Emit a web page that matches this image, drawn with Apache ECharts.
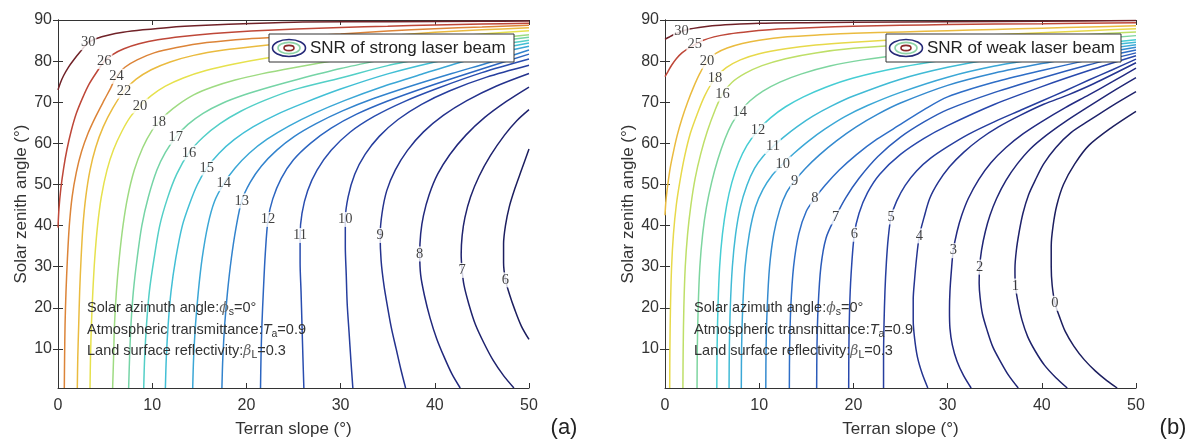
<!DOCTYPE html>
<html><head><meta charset="utf-8">
<script src="https://cdn.jsdelivr.net/npm/echarts@6.0.0/dist/echarts.min.js"></script>
<style>html,body{margin:0;padding:0;background:#fff}#c{width:1194px;height:443px}</style>
</head><body><div id="c"></div>
<script>
// ---------- data ----------
const yTicks = [10,20,30,40,50,60,70,80,90];

// (a) strong beam: contour levels and lines [terrain slope, solar zenith]
const levelsA = [6,7,8,9,10,11,12,13,14,15,16,17,18,20,22,24,26,30];
const cA6  = [[50,12.3],[49.2,15.5],[48.5,19.5],[47.9,23.5],[47.5,26.8],[47.3,31],[47.3,35.5],[47.5,40],[47.9,44.5],[48.5,49],[49.2,53.5],[50,58.6]];
const cA7  = [[48.4,0.5],[47.3,3.5],[46.2,7.2],[45.2,11.5],[44.3,16],[43.6,21],[43.1,25.5],[42.9,29.1],[42.8,33],[42.9,37.5],[43.2,42],[43.8,47],[44.7,52],[45.9,57],[47.4,62],[48.7,65.5],[50,68.2]];
const cA8  = [[42.7,0.5],[41.8,4],[41,8],[40.2,12.5],[39.5,17.5],[38.9,23],[38.5,28],[38.4,33.1],[38.5,38],[38.8,42.5],[39.4,47.5],[40.3,52.5],[41.6,57.3],[43.3,62],[45.3,66.3],[47.6,70.2],[50,73.7]];
const cA9  = [[36.9,0.5],[36.4,5],[35.9,10],[35.4,15],[35,20],[34.6,25.5],[34.3,31.5],[34.2,37.6],[34.4,43],[34.9,48.5],[35.8,53.5],[37.1,58.3],[38.8,62.8],[40.9,66.8],[43.4,70.4],[46.5,73.9],[50,77]];
const cA10 = [[31.3,0.5],[31.1,7],[30.9,14],[30.7,21],[30.6,28],[30.5,35],[30.5,41.5],[30.8,47],[31.5,52.5],[32.6,57.3],[34.1,61.7],[36.1,65.8],[38.6,69.5],[41.6,72.8],[45.5,76.1],[50,79]];
const cA11 = [[26.1,0.5],[26,8],[25.9,16],[25.8,24],[25.7,31],[25.7,37.6],[25.9,43],[26.5,48.5],[27.5,53.5],[29,58.3],[31,62.7],[33.6,66.6],[36.7,70.1],[40.3,73.4],[45,77.2],[50,80.5]];
const cA12 = [[21.5,0.5],[21.55,8],[21.65,16],[21.8,24],[22,33],[22.3,41.5],[22.8,46.5],[23.7,51.5],[25,56],[26.8,60],[29,63.7],[31.7,67.1],[35,70.3],[39,73.6],[43.5,77],[50,81.7]];
const cA13 = [[17.4,0.5],[17.5,8],[17.7,16],[18,24],[18.4,32],[18.9,39.5],[19.5,46],[20.4,50.5],[21.6,54.5],[23.2,58.3],[25.1,61.7],[27.4,64.8],[30.2,67.9],[33.5,70.9],[37.4,73.9],[41.8,77],[46,79.8],[50,82.7]];
const cA14 = [[14.3,0.5],[14.4,8],[14.6,16],[14.9,24],[15.3,32],[15.9,40],[16.6,45.8],[17.6,50.2],[18.8,54],[20.3,57.6],[22.2,61],[24.5,64.2],[27.2,67.3],[30.4,70.4],[34.2,73.6],[38.6,76.8],[43.5,80.2],[50,83.6]];
const cA15 = [[11.4,0.5],[11.5,8],[11.7,16],[12,24],[12.5,32],[13.2,40],[14,45.5],[14.8,50],[15.8,54],[17.1,57.6],[18.7,60.9],[20.7,64],[23.2,67],[26.2,69.9],[30,73.2],[35,76.9],[40,79.8],[45,82.2],[50,84.4]];
const cA16 = [[9.1,0.5],[9.2,8],[9.4,16],[9.7,24],[10.2,32],[10.8,40],[11.6,46.5],[12.6,52.5],[13.9,57.7],[15.4,61.5],[17.2,64.8],[19.4,67.8],[22,70.5],[25,73],[30,75.9],[35,78.9],[40,81.2],[45,83.3],[50,85.1]];
const cA17 = [[7.5,0.5],[7.6,8],[7.75,16],[8,24],[8.4,32],[8.9,40],[9.6,47],[10.5,53.5],[11.4,57.8],[12.5,61.5],[13.8,64.6],[15.4,67.3],[17.4,69.7],[19.8,71.8],[22.5,73.7],[25.5,75.6],[30,78.2],[35,80.6],[40,82.9],[45,84.4],[50,85.8]];
const cA18 = [[5.8,0.5],[5.9,8],[6,16],[6.2,24],[6.5,32],[6.9,40],[7.4,47],[8.1,53.5],[9,59],[10,63.2],[10.7,65.2],[11.6,67.3],[12.8,69.5],[14.4,71.8],[16.4,73.7],[18.8,75.4],[21.6,76.9],[25,78.4],[30,80.4],[35,82.2],[40,83.9],[45,85.2],[50,86.4]];
const cA20 = [[3.4,0.5],[3.45,8],[3.55,16],[3.7,24],[3.9,32],[4.2,40],[4.6,47],[5.2,53.5],[5.9,58.5],[6.8,63],[7.7,66.5],[8.7,69.1],[9.9,71.6],[11.4,73.9],[13.3,75.9],[15.7,77.7],[18.7,79.3],[22,80.7],[25.3,81.8],[30,83.4],[35,84.6],[40,85.6],[45,86.6],[50,87.4]];
const cA22 = [[2.05,0.5],[2.1,8],[2.2,16],[2.3,24],[2.45,32],[2.65,40],[2.95,47],[3.4,53.5],[4,59],[4.8,64],[5.8,68.5],[7,72.7],[8.3,75.6],[9.9,77.9],[11.9,79.8],[14.4,81.4],[17.6,82.7],[21.3,83.7],[25.3,84.6],[30,85.3],[35,86.2],[40,87],[45,87.6],[50,88.1]];
const cA24 = [[0.67,0.5],[0.7,8],[0.75,16],[0.85,24],[1,32],[1.2,40],[1.5,47],[1.95,53],[2.5,58],[3.2,62.5],[4,66.5],[4.9,70.5],[5.6,73.5],[6.2,76.3],[7.1,78.5],[8.4,80.3],[10.2,82],[12.6,83.3],[15.8,84.5],[20,85.4],[25.3,86],[30,86.6],[35,87.3],[40,87.9],[45,88.3],[50,88.7]];
const cA26 = [[0,39.5],[0.1,44],[0.3,49],[0.6,54],[0.95,58.5],[1.4,63],[1.95,67.3],[2.6,71],[3.3,74.4],[4.1,77.3],[4.9,79.9],[5.8,81.6],[7,83],[8.6,84.2],[10.6,85.2],[13.2,86],[16.5,86.7],[20.5,87.3],[25.3,87.8],[30,88.2],[35,88.5],[40,88.8],[45,89],[50,89.2]];
const cA30 = [[0,73],[0.25,74.7],[0.6,76.5],[1.1,78.5],[1.7,80.4],[2.4,82.4],[3.2,84.5],[4.1,85.5],[5.3,86.3],[6.9,87],[9,87.6],[11.8,88.2],[15.7,88.7],[20.5,89.15],[26,89.5],[35,89.6],[45,89.7],[50,89.75]];
const linesA = [cA6,cA7,cA8,cA9,cA10,cA11,cA12,cA13,cA14,cA15,cA16,cA17,cA18,cA20,cA22,cA24,cA26,cA30];
const labelsA = [[47.5,26.8],[42.9,29.1],[38.4,33.1],[34.2,37.6],[30.5,41.5],[25.7,37.6],[22.3,41.5],[19.5,46],[17.6,50.2],[15.8,54],[13.9,57.7],[12.5,61.5],[10.7,65.2],[8.7,69.1],[7,72.7],[6.2,76.3],[4.9,79.9],[3.2,84.5]];

// (b) weak beam
const levelsB = [0,1,2,3,4,5,6,7,8,9,10,11,12,14,16,18,20,25,30];
const cB0  = [[48,0.5],[46.9,2.3],[45.7,4.6],[44.5,7.4],[43.4,10.7],[42.5,14.2],[41.9,17.7],[41.4,21.1],[41.1,25.5],[41,30],[41,35],[41.2,40],[41.6,45],[42.3,50],[43.5,55],[45,59.5],[47.5,64],[50,67.8]];
const cB1  = [[42.7,0.5],[41.5,3],[40.3,6],[39.3,9.5],[38.5,13],[37.9,17],[37.5,21],[37.2,25.3],[37.15,29.5],[37.3,34],[37.6,38.5],[38,43],[38.6,47.5],[39.3,51],[40.2,55],[41.5,59],[43.1,62.6],[45,65.5],[47.5,69.2],[50,72.6]];
const cB2  = [[37.5,0.5],[36.5,3.5],[35.6,7],[34.8,10.5],[34.2,14.5],[33.7,18.5],[33.45,22.5],[33.35,26],[33.4,29.9],[33.6,34],[34,38.5],[34.5,42.5],[35.2,46.6],[36.2,51],[37.4,55],[38.8,58.7],[40.5,62],[42.5,65.3],[45,69],[47.5,72.6],[50,76]];
const cB3  = [[32.5,0.5],[31.7,3.5],[31,7],[30.5,11],[30.25,15],[30.2,19.5],[30.25,24],[30.4,29],[30.6,33.9],[31,38.5],[31.5,42.5],[32.2,46.6],[33.3,51.2],[34.6,55.3],[36.2,59],[38,62.3],[40,65.3],[42.5,68.7],[45,71.8],[47.5,75],[50,78.3]];
const cB4  = [[27.9,0.5],[27.3,4],[26.8,8],[26.5,12.5],[26.35,17],[26.35,22],[26.5,27],[26.7,32],[27,37.5],[27.5,42],[28.1,46.6],[29,50.5],[30.2,54.3],[31.7,57.8],[33.4,61],[35.4,64],[37.7,66.8],[40.2,69.5],[42.8,71.8],[45.5,74.5],[50,79.6]];
const cB5  = [[23.2,0.5],[23.2,8],[23.25,16],[23.35,24],[23.5,31],[23.7,37],[24,42.1],[24.6,46],[25.5,49.8],[26.7,53.3],[28.2,56.4],[30,59.2],[32.2,62.2],[35,65.3],[37.8,68.1],[40,70.3],[42.5,72.8],[45,75.4],[47.5,77.9],[50,80.5]];
const cB6  = [[19.5,0.5],[19.52,10],[19.6,20],[19.75,28],[20.1,37.9],[20.6,43],[21.5,48],[22.8,52.5],[25,57.3],[27.5,61.2],[30,64.3],[35,69.5],[40,73.8],[45,77.7],[50,81.3]];
const cB7  = [[16.1,0.5],[16.13,10],[16.25,20],[16.55,30],[17.1,37],[18.1,42.1],[19.2,46.8],[20.6,51.5],[22.6,56.8],[25,61.5],[27.5,65.2],[30,68.2],[35,72.4],[40,75.9],[45,79.1],[50,82]];
const cB8  = [[13.2,0.5],[13.23,10],[13.35,20],[13.65,30],[14.2,38],[15,43.5],[15.9,46.6],[17,49.8],[18.5,53.5],[20.3,57.2],[22.5,61],[25,64.6],[27.5,68.2],[30,71.3],[35,74.9],[40,77.7],[45,80.3],[50,82.7]];
const cB9  = [[10.7,0.5],[10.73,10],[10.85,20],[11.1,30],[11.55,38],[12.2,44],[12.9,48],[13.77,50.9],[14.9,53.9],[16.4,57.2],[18.2,60.6],[20.3,64],[22.6,67.1],[25,69.8],[30,74.1],[35,77.1],[40,79.4],[45,81.4],[50,83.4]];
const cB10 = [[8.1,0.5],[8.13,10],[8.25,20],[8.5,30],[8.95,38],[9.6,44.5],[10.4,48.8],[11.4,52.3],[12.5,55],[13.7,57.6],[15.2,60.5],[17,63.5],[19.1,66.5],[21.5,69.2],[25,72.4],[30,76.1],[35,78.8],[40,80.7],[45,82.4],[50,84]];
const cB11 = [[6.8,0.5],[6.83,10],[6.93,20],[7.15,30],[7.5,38],[8,44.5],[8.7,49.8],[9.5,53.9],[10.4,56.8],[11.46,59.2],[12.6,61.5],[14,64],[15.7,66.6],[17.7,69.1],[20,71.5],[25,75.6],[30,78.5],[35,80.6],[40,82.1],[45,83.4],[50,84.6]];
const cB12 = [[5.5,0.5],[5.53,10],[5.62,20],[5.8,30],[6.1,38],[6.55,45],[7.1,50.5],[7.8,55.3],[8.7,59.5],[9.87,63.2],[11.2,66.2],[12.8,68.9],[14.7,71.3],[17,73.6],[20,75.9],[25,78.5],[30,80.4],[35,81.8],[40,82.9],[45,84],[50,85.2]];
const cB14 = [[3.4,0.5],[3.43,10],[3.52,20],[3.7,30],[4,38],[4.4,44.5],[4.95,50.5],[5.6,56],[6.35,61],[7.1,64.8],[7.93,67.6],[9,70.3],[10.4,72.7],[12.2,74.9],[14.5,76.9],[17.5,78.8],[21,80.3],[25,81.5],[30,82.6],[35,83.5],[40,84.4],[45,85.3],[50,86.2]];
const cB16 = [[1.9,0.5],[1.93,10],[2,20],[2.15,30],[2.4,38],[2.75,45],[3.2,51.5],[3.8,57.5],[4.5,63],[5.3,68],[6.1,72],[7.1,74.8],[8.5,77],[10.3,78.9],[12.8,80.6],[16,82],[20,83.1],[25,83.9],[30,84.6],[35,85.2],[40,85.8],[45,86.5],[50,87.1]];
const cB18 = [[0.5,0.5],[0.52,10],[0.58,20],[0.7,30],[0.9,38],[1.2,45],[1.6,51],[2.1,57],[2.7,62.5],[3.4,67],[4.2,71.5],[5.3,75.8],[6.5,78.4],[8,80.3],[10,81.8],[12.8,83],[16,83.9],[20,84.6],[25.2,85.3],[30,85.9],[35,86.4],[40,86.9],[45,87.4],[50,87.9]];
const cB20 = [[0,42.5],[0.1,46],[0.3,50],[0.55,54],[0.9,58],[1.3,62],[1.8,66],[2.4,70],[3,73.5],[3.7,77],[4.46,80],[5.4,81.9],[6.6,83.2],[8.2,84.3],[10,85.1],[13,85.9],[16.5,86.4],[20,86.8],[25.2,87.1],[30,87.4],[35,87.7],[40,88],[45,88.3],[50,88.6]];
const cB25 = [[0,76.2],[0.3,77.4],[0.7,79],[1.2,80.6],[1.8,82],[2.4,83],[3.15,84],[4,85],[5.2,85.9],[6.8,86.6],[9,87.2],[12,87.8],[16,88.2],[20,88.45],[25,88.7],[30,88.9],[40,89.1],[50,89.35]];
const cB30 = [[0,85.3],[0.4,85.8],[0.9,86.4],[1.74,87.2],[2.6,87.8],[3.6,88.2],[5,88.6],[7,88.9],[10,89.2],[15,89.35],[20,89.45],[30,89.6],[40,89.7],[50,89.85]];
const linesB = [cB0,cB1,cB2,cB3,cB4,cB5,cB6,cB7,cB8,cB9,cB10,cB11,cB12,cB14,cB16,cB18,cB20,cB25,cB30];
const labelsB = [[41.4,21.1],[37.2,25.3],[33.4,29.9],[30.6,33.9],[27,37.5],[24,42.1],[20.1,37.9],[18.1,42.1],[15.9,46.6],[13.77,50.9],[12.5,55],[11.46,59.2],[9.87,63.2],[7.93,67.6],[6.1,72],[5.3,75.8],[4.46,80],[3.15,84],[1.74,87.2]];

// ---------- styling ----------
const cmapStops = [
  [0.00,[28,30,95]],[0.10,[34,42,130]],[0.20,[40,72,172]],[0.27,[46,112,200]],
  [0.33,[58,165,214]],[0.40,[70,205,212]],[0.46,[118,212,165]],[0.52,[178,222,112]],
  [0.58,[230,226,78]],[0.67,[234,186,62]],[0.75,[220,132,56]],[0.83,[192,72,56]],[1.00,[112,34,40]]
];
function cmap(t){
  for (let i=1;i<cmapStops.length;i++){
    if (t<=cmapStops[i][0]){
      const a=cmapStops[i-1], b=cmapStops[i], f=(t-a[0])/(b[0]-a[0]);
      const c=a[1].map((v,k)=>Math.round(v+(b[1][k]-v)*f));
      return 'rgb('+c.join(',')+')';
    }
  }
  return 'rgb(112,34,40)';
}
const FONT = 'Liberation Sans, Arial, sans-serif';
const TXT = '#333';

function axesFor(gi){
  const xb = {type:'value', gridIndex:gi, min:0, max:50, interval:10, position:'bottom',
    axisLine:{show:true,lineStyle:{color:TXT,width:1}}, axisTick:{inside:true,length:5,lineStyle:{color:TXT}},
    axisLabel:{fontFamily:FONT,fontSize:16,color:TXT,margin:10}, splitLine:{show:false},
    name:'Terran slope (°)', nameLocation:'middle', nameGap:33,
    nameTextStyle:{fontFamily:FONT,fontSize:17,color:TXT}};
  const xt = {type:'value', gridIndex:gi, min:0, max:50, interval:10, position:'top',
    axisLine:{show:true,lineStyle:{color:TXT,width:1}}, axisTick:{inside:true,length:5,lineStyle:{color:TXT}},
    axisLabel:{show:false}, splitLine:{show:false}};
  const yl = {type:'value', gridIndex:gi, min:0.5, max:90, position:'left',
    axisLine:{show:true,lineStyle:{color:TXT,width:1}},
    axisTick:{inside:true,length:5,lineStyle:{color:TXT},customValues:yTicks},
    axisLabel:{fontFamily:FONT,fontSize:16,color:TXT,margin:6,customValues:yTicks}, splitLine:{show:false},
    name:'Solar zenith angle (°)', nameLocation:'middle', nameGap:28,
    nameTextStyle:{fontFamily:FONT,fontSize:17,color:TXT}};
  const yr = {type:'value', gridIndex:gi, min:0.5, max:90, position:'right',
    axisLine:{show:true,lineStyle:{color:TXT,width:1}},
    axisTick:{inside:true,length:5,lineStyle:{color:TXT},customValues:yTicks},
    axisLabel:{show:false}, splitLine:{show:false}};
  return {x:[xb,xt], y:[yl,yr]};
}
const axA = axesFor(0), axB = axesFor(1);

function buildSeries(lines, levels, labels, xi, yi){
  const lo = Math.min(...levels), hi = Math.max(...levels);
  const out = [];
  lines.forEach((pts,i)=>{
    out.push({type:'line', xAxisIndex:xi, yAxisIndex:yi, data:pts, showSymbol:false, smooth:0.3,
      silent:true, z:2, lineStyle:{width:1.5, color:cmap((levels[i]-lo)/(hi-lo))}});
  });
  out.push({type:'scatter', xAxisIndex:xi, yAxisIndex:yi, z:5, silent:true, symbolSize:2,
    itemStyle:{color:'rgba(255,255,255,0)'},
    data: labels.map((p,i)=>[p[0],p[1],String(levels[i])]),
    label:{show:true, position:'inside', formatter:(p)=>p.value[2],
      fontFamily:'Liberation Serif, Times New Roman, serif', fontSize:14.5, color:'#111',
      backgroundColor:'#fff', padding:[0,1]}});
  return out;
}

const richBase = {
  n:{fontFamily:FONT,fontSize:14.5,fill:TXT},
  g:{fontFamily:'DejaVu Serif, serif',fontSize:14,fontStyle:'italic',fill:'#666'},
  t:{fontFamily:FONT,fontSize:14.5,fontStyle:'italic',fill:TXT},
  s:{fontFamily:FONT,fontSize:10.5,fill:TXT,padding:[9,0,0,0]}
};
function annot(x){
  const lines = [
    '{n|Solar azimuth angle:}{g|ϕ}{s|s}{n|=0°}',
    '{n|Atmospheric transmittance:}{t|T}{s|a}{n|=0.9}',
    '{n|Land surface reflectivity:}{g|β}{s|L}{n|=0.3}'
  ];
  const ys = [308, 329.5, 351];
  return lines.map((t,i)=>({type:'text', x:x, y:ys[i], z:10, silent:true,
    style:{text:t, rich:richBase, verticalAlign:'middle', align:'left'}}));
}
function legendBox(x, w, label){
  const cx = x + 20, cy = 48;
  return [
    {type:'rect', shape:{x:x, y:34, width:w, height:28}, z:20,
      style:{fill:'#fff', stroke:'#333', lineWidth:1}},
    {type:'ellipse', shape:{cx:cx, cy:cy, rx:16.5, ry:8.5}, z:21, style:{fill:'none', stroke:'#262a78', lineWidth:1.6}},
    {type:'ellipse', shape:{cx:cx, cy:cy, rx:11, ry:5.6}, z:21, style:{fill:'none', stroke:'#8ed4a8', lineWidth:1.6}},
    {type:'ellipse', shape:{cx:cx, cy:cy, rx:5, ry:2.6}, z:21, style:{fill:'none', stroke:'#8a2a2a', lineWidth:1.6}},
    {type:'text', x:x + 41, y:cy, z:21, style:{text:label, fontFamily:FONT, fontSize:17, fill:'#222', verticalAlign:'middle'}}
  ];
}

const option = {
  animation:false,
  backgroundColor:'#fff',
  grid:[
    {left:58, top:20, width:471, height:372.3, containLabel:false},
    {left:665, top:20, width:471, height:372.3, containLabel:false}
  ],
  xAxis:[...axA.x, ...axB.x],
  yAxis:[...axA.y, ...axB.y],
  series:[...buildSeries(linesA, levelsA, labelsA, 0, 0), ...buildSeries(linesB, levelsB, labelsB, 2, 2)],
  graphic:[
    ...legendBox(269, 245, 'SNR of strong laser beam'),
    ...legendBox(886, 235, 'SNR of weak laser beam'),
    ...annot(87), ...annot(694),
    {type:'text', x:564, y:428, style:{text:'(a)', fontFamily:FONT, fontSize:22, fill:'#222', align:'center', verticalAlign:'middle'}},
    {type:'text', x:1173, y:428, style:{text:'(b)', fontFamily:FONT, fontSize:22, fill:'#222', align:'center', verticalAlign:'middle'}}
  ]
};
const chart = echarts.init(document.getElementById('c'), null, {renderer:'canvas'});
chart.setOption(option);
</script></body></html>
